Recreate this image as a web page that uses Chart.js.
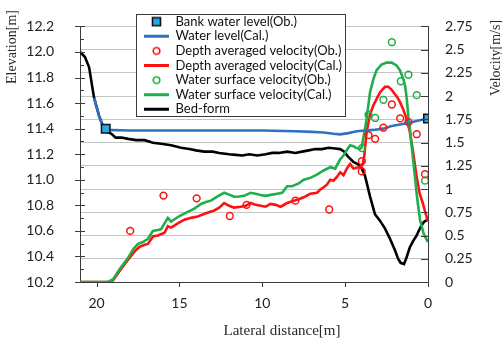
<!DOCTYPE html>
<html><head><meta charset="utf-8">
<script src="https://cdn.jsdelivr.net/npm/chart.js@4.4.1/dist/chart.umd.min.js"></script>
<style>html,body{margin:0;padding:0;background:#fff;}canvas{display:block;}</style>
</head><body>
<canvas id="c" width="502" height="343"></canvas>
<script>
// ---- tick values ----
const X_TICKS = [0, 5, 10, 15, 20];
const ELEV_TICKS = [10.2, 10.4, 10.6, 10.8, 11.0, 11.2, 11.4, 11.6, 11.8, 12.0, 12.2];
const VEL_TICKS = [0, 0.25, 0.5, 0.75, 1, 1.25, 1.5, 1.75, 2, 2.25, 2.5, 2.75];

// ---- titles / names ----
const TITLE_X = 'Lateral distance[m]';
const TITLE_Y_LEFT = 'Elevation[m]';
const TITLE_Y_RIGHT = 'Velocity[m/s]';
const SERIES_NAMES = ['Bank water level(Ob.)', 'Water level(Cal.)', 'Depth averaged velocity(Ob.)',
  'Depth averaged velocity(Cal.)', 'Water surface velocity(Ob.)', 'Water surface velocity(Cal.)', 'Bed-form'];

// ---- series: [lateral distance (m), value] ----
const BANK_WL_OB = [[19.45, 11.40], [0, 11.48]];
const WATER_LEVEL_CAL = [[20.15,11.64],[19.85,11.50],[19.55,11.39],[18,11.385],[16,11.385],[14,11.385],[12,11.385],
  [10,11.385],[8,11.38],[7,11.375],[6.3,11.37],[5.7,11.36],[5.3,11.355],[4.8,11.365],[4.3,11.38],[3.8,11.385],
  [3.3,11.39],[2.7,11.40],[2.2,11.42],[1.6,11.435],[1.0,11.45],[0.5,11.465],[0,11.475]];
const DAV_OB = [[17.97,0.55],[15.96,0.93],[13.96,0.90],[11.96,0.71],[10.95,0.83],[8.0,0.875],[5.96,0.78],
  [3.99,1.30],[4.0,1.19],[2.18,1.91],[1.68,1.76],[1.18,1.72],[2.69,1.66],[0.68,1.59],[3.59,1.58],[3.19,1.54],[0.18,1.16]];
const DAV_CAL = [[21,0],[19.2,0],[19.0,0.02],[18.6,0.12],[18.1,0.24],[17.7,0.33],[17.4,0.38],[17.1,0.40],[16.9,0.41],
  [16.6,0.49],[16.3,0.50],[15.9,0.53],[15.7,0.60],[15.5,0.585],[15.1,0.63],[14.7,0.67],[14.3,0.69],[13.9,0.705],
  [13.4,0.74],[12.9,0.77],[12.6,0.80],[12.3,0.85],[12.0,0.82],[11.7,0.80],[11.3,0.81],[11.0,0.82],[10.7,0.85],
  [10.4,0.83],[10.1,0.82],[9.8,0.81],[9.5,0.84],[9.2,0.83],[8.9,0.81],[8.5,0.85],[8.1,0.875],[7.8,0.89],[7.4,0.92],
  [7.1,0.95],[6.7,0.96],[6.5,0.995],[6.3,1.02],[6.1,1.047],[5.9,1.10],[5.7,1.09],[5.5,1.13],[5.3,1.18],[5.1,1.15],
  [4.9,1.22],[4.7,1.27],[4.5,1.22],[4.3,1.23],[4.1,1.24],[3.95,1.26],[3.85,1.35],[3.7,1.62],[3.5,1.80],[3.3,1.90],
  [3.1,1.97],[2.9,2.04],[2.6,2.10],[2.4,2.10],[2.2,2.07],[1.9,2.00],[1.7,1.94],[1.5,1.86],[1.3,1.76],[1.1,1.62],
  [0.9,1.40],[0.7,1.15],[0.5,0.95],[0.3,0.84],[0.15,0.74],[0,0.65]];
const WSV_OB = [[2.18,2.58],[1.18,2.23],[1.64,2.16],[0.68,2.01],[2.69,1.96],[3.59,1.80],[3.19,1.765],[3.99,1.44],[0.18,1.09]];
const WSV_CAL = [[21,0],[19.3,0],[19.0,0.03],[18.6,0.14],[18.1,0.26],[17.8,0.35],[17.5,0.41],[17.2,0.43],[16.9,0.465],
  [16.6,0.55],[16.3,0.56],[16.1,0.57],[15.9,0.63],[15.7,0.69],[15.5,0.65],[15.0,0.71],[14.5,0.755],[14.1,0.79],
  [13.7,0.84],[13.4,0.86],[13.1,0.875],[12.7,0.92],[12.3,0.96],[12.0,0.94],[11.7,0.917],[11.4,0.92],[11.1,0.927],
  [10.7,0.96],[10.4,0.95],[10.1,0.937],[9.8,0.927],[9.4,0.94],[9.1,0.95],[8.8,0.96],[8.5,1.03],[8.2,1.03],[7.8,1.06],
  [7.5,1.10],[7.1,1.12],[6.7,1.156],[6.3,1.20],[5.9,1.235],[5.6,1.22],[5.3,1.32],[5.1,1.36],[4.9,1.42],[4.7,1.47],
  [4.5,1.46],[4.3,1.44],[4.1,1.43],[4.0,1.45],[3.85,1.60],[3.7,1.76],[3.5,2.04],[3.3,2.18],[3.1,2.28],[2.8,2.34],
  [2.5,2.36],[2.2,2.36],[1.9,2.33],[1.7,2.28],[1.5,2.19],[1.38,2.11],[1.28,1.97],[1.18,1.77],[1.08,1.63],[0.98,1.45],
  [0.88,1.29],[0.78,1.12],[0.68,0.944],[0.58,0.80],[0.48,0.67],[0.28,0.53],[0.1,0.46],[0,0.43]];
const BED_FORM = [[21.0,12.00],[20.7,11.96],[20.45,11.88],[20.15,11.64],[19.85,11.50],[19.55,11.40],[19.3,11.37],
  [19.1,11.36],[18.85,11.33],[18.5,11.33],[18.1,11.32],[17.6,11.31],[17.1,11.31],[16.6,11.29],[16.0,11.28],[15.5,11.27],
  [14.9,11.25],[14.4,11.24],[14.0,11.23],[13.5,11.22],[13.0,11.22],[12.6,11.21],[12.0,11.20],[11.6,11.195],[11.2,11.19],
  [10.8,11.20],[10.3,11.19],[9.8,11.20],[9.4,11.21],[9.0,11.21],[8.5,11.22],[8.0,11.21],[7.6,11.22],[7.2,11.23],
  [6.8,11.24],[6.4,11.24],[6.0,11.25],[5.6,11.245],[5.3,11.24],[5.05,11.22],[4.85,11.185],[4.5,11.14],[4.2,11.12],
  [4.0,11.09],[3.8,11.03],[3.5,10.87],[3.2,10.73],[2.9,10.68],[2.6,10.62],[2.3,10.54],[2.0,10.45],[1.8,10.38],
  [1.65,10.35],[1.45,10.34],[1.3,10.39],[1.1,10.47],[0.9,10.52],[0.7,10.56],[0.45,10.63],[0.25,10.67],[0.0,10.69]];

// ---- helpers ----
const pts = arr => arr.map(p => ({x: p[0], y: p[1]}));
const RED = '#ff1111', GREEN = '#1eae4a', BLUE = '#2e72c0', CYAN = '#28a8e0';

function symbol(kind, color) {
  const c = document.createElement('canvas');
  c.width = 11; c.height = 11;
  const g = c.getContext('2d');
  g.lineWidth = 1.6;
  if (kind === 'circle') {
    g.strokeStyle = color; g.beginPath(); g.arc(5.5, 5.5, 3.3, 0, Math.PI * 2); g.stroke();
  } else {
    g.fillStyle = CYAN; g.fillRect(1.5, 1.5, 8, 8);
    g.strokeStyle = '#111'; g.strokeRect(1.5, 1.5, 8, 8);
  }
  return c;
}

const lineDs = (label, data, color, axis, order) => ({
  label, data: pts(data), yAxisID: axis, order,
  borderColor: color, backgroundColor: color, borderWidth: 2.6,
  pointRadius: 0, tension: 0, showLine: true
});
const pointDs = (label, data, color, axis, order, sym) => ({
  label, data: pts(data), yAxisID: axis, order, showLine: false,
  borderColor: color, backgroundColor: 'rgba(255,255,255,0)', borderWidth: 1.5,
  pointStyle: 'circle', pointRadius: 3.4, pointBorderWidth: 1.5,
  pointBackgroundColor: 'rgba(255,255,255,0)', legendSymbol: sym
});

const datasets = [
  Object.assign(pointDs(SERIES_NAMES[0], BANK_WL_OB, '#111', 'y', 0, symbol('rect')),
    {pointStyle: 'rect', pointRadius: 6, pointBackgroundColor: CYAN, pointBorderColor: '#111', pointBorderWidth: 1.5}),
  lineDs(SERIES_NAMES[1], WATER_LEVEL_CAL, BLUE, 'y', 3),
  pointDs(SERIES_NAMES[2], DAV_OB, RED, 'v', 1, symbol('circle', RED)),
  lineDs(SERIES_NAMES[3], DAV_CAL, RED, 'v', 5),
  pointDs(SERIES_NAMES[4], WSV_OB, GREEN, 'v', 2, symbol('circle', GREEN)),
  lineDs(SERIES_NAMES[5], WSV_CAL, GREEN, 'v', 4),
  lineDs(SERIES_NAMES[6], BED_FORM, '#000', 'y', 6)
];

// legend frame + placement
const legendFrame = {
  id: 'legendFrame',
  beforeDraw(chart) {
    const lg = chart.legend;
    if (!lg) return;
    const dx = 142.4 - lg.left, dy = 13.6 - lg.top;
    lg.left += dx; lg.right += dx; lg.top += dy; lg.bottom += dy;
    if (!lg._framed) {
      lg._framed = true;
      const orig = lg.draw;
      lg.draw = function () {
        const c = this.ctx;
        c.save();
        c.fillStyle = '#fff'; c.fillRect(136.5, 14.5, 209, 102);
        c.strokeStyle = '#3a3a3a'; c.lineWidth = 1; c.strokeRect(136.5, 14.5, 209, 102);
        c.restore();
        orig.call(this);
      };
    }
  }
};

// tick marks
const axisMarks = {
  id: 'axisMarks',
  afterDraw(chart) {
    const {ctx, chartArea: a, scales} = chart;
    ctx.save();
    ctx.strokeStyle = '#3a3a3a'; ctx.lineWidth = 1;
    ctx.beginPath();
    ELEV_TICKS.forEach(v => {
      const y = Math.round(scales.y.getPixelForValue(v)) + 0.5;
      ctx.moveTo(a.left - 5, y); ctx.lineTo(a.left + 5, y);
    });
    for (let i = 0; i < ELEV_TICKS.length - 1; i++) {
      const y = Math.round(scales.y.getPixelForValue((ELEV_TICKS[i] + ELEV_TICKS[i + 1]) / 2)) + 0.5;
      ctx.moveTo(a.left, y); ctx.lineTo(a.left + 4, y);
    }
    VEL_TICKS.forEach(v => {
      const y = Math.round(scales.v.getPixelForValue(v)) + 0.5;
      ctx.moveTo(a.right - 7, y); ctx.lineTo(a.right, y);
    });
    X_TICKS.forEach(v => {
      const x = Math.round(scales.x.getPixelForValue(v)) + 0.5;
      ctx.moveTo(x, a.bottom); ctx.lineTo(x, a.bottom + 5);
    });
    ctx.stroke();
    // axis titles
    ctx.fillStyle = '#2a2a2a';
    ctx.textAlign = 'center'; ctx.textBaseline = 'middle';
    ctx.font = '15px "Liberation Serif", "Times New Roman", serif';
    ctx.fillText(TITLE_X, 282, 331);
    ctx.font = '14px "Liberation Serif", "Times New Roman", serif';
    ctx.save(); ctx.translate(12, 47); ctx.rotate(-Math.PI / 2); ctx.fillText(TITLE_Y_LEFT, 0, 0); ctx.restore();
    ctx.save(); ctx.translate(496, 58); ctx.rotate(-Math.PI / 2); ctx.fillText(TITLE_Y_RIGHT, 0, 0); ctx.restore();
    ctx.restore();
  }
};

const tickFont = {family: 'Lato', size: 14};
const borderCfg = {display: true, color: '#3a3a3a', width: 1};

new Chart(document.getElementById('c'), {
  type: 'line',
  data: {datasets},
  options: {
    responsive: false, animation: false, devicePixelRatio: 1, events: [],
    layout: {padding: {top: 14, left: 0, right: 0, bottom: 0}},
    scales: {
      x: {
        type: 'linear', position: 'bottom', reverse: true, min: 0, max: 21,
        afterBuildTicks: s => { s.ticks = X_TICKS.map(v => ({value: v})); },
        afterFit: s => { s.height = 61; },
        grid: {display: false}, border: borderCfg,
        ticks: {font: tickFont, color: '#222', padding: 5, autoSkip: false, maxRotation: 0, callback: v => String(v)}
      },
      y: {
        type: 'linear', position: 'left', min: 10.2, max: 12.2,
        afterBuildTicks: s => { s.ticks = ELEV_TICKS.map(v => ({value: v})); },
        afterFit: s => { s.width = 80; },
        grid: {display: false}, border: borderCfg,
        ticks: {font: tickFont, color: '#222', padding: 18, autoSkip: false, callback: v => v.toFixed(1)}
      },
      v: {
        type: 'linear', position: 'right', min: 0, max: 2.75,
        afterBuildTicks: s => { s.ticks = VEL_TICKS.map(v => ({value: v})); },
        afterFit: s => { s.width = 74; },
        grid: {display: true, drawOnChartArea: true, drawTicks: false, color: '#c4c4c4', lineWidth: 1, z: -1},
        border: borderCfg,
        ticks: {font: tickFont, color: '#222', padding: 17, autoSkip: false, callback: v => String(v)}
      }
    },
    plugins: {
      tooltip: {enabled: false},
      legend: {
        position: 'chartArea', align: 'start',
        labels: {
          usePointStyle: true, pointStyleWidth: 25, boxHeight: 8,
          font: {family: 'Lato', size: 13}, color: '#111', padding: 1.6,
          generateLabels(chart) {
            const items = Chart.defaults.plugins.legend.labels.generateLabels(chart);
            items.sort((a, b) => a.datasetIndex - b.datasetIndex);
            items.forEach(it => {
              const ds = chart.data.datasets[it.datasetIndex];
              if (ds.legendSymbol) { it.pointStyle = ds.legendSymbol; }
              else { it.pointStyle = 'line'; it.lineWidth = 3; it.strokeStyle = ds.borderColor; }
            });
            return items;
          }
        }
      }
    }
  },
  plugins: [legendFrame, axisMarks]
});
</script>
</body></html>
